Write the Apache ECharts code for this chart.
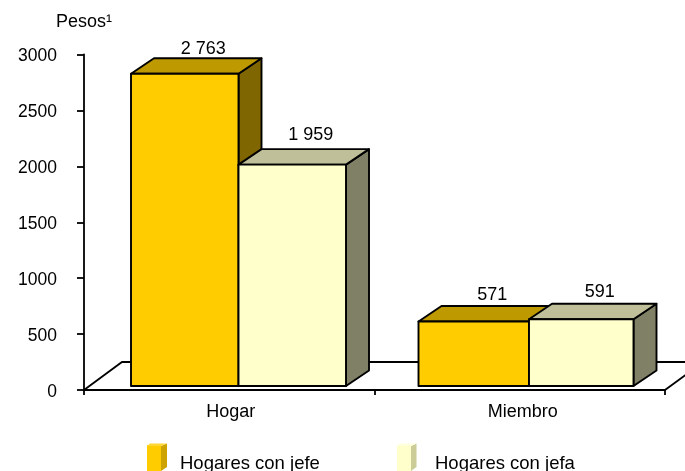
<!DOCTYPE html>
<html><head><meta charset="utf-8">
<style>html,body{margin:0;padding:0;background:#fff}#c{width:685px;height:471px}</style>
<script src="https://cdn.jsdelivr.net/npm/echarts@6/dist/echarts.min.js"></script>
</head><body><div id="c"></div>
<script>
const categories = ['Hogar', 'Miembro'];
const seriesNames = ['Hogares con jefe', 'Hogares con jefa'];
const jefeValues = [2763, 571];
const jefaValues = [1959, 591];
const valueLabels = [['2 763', '571'], ['1 959', '591']];
const yTicks = {min: 0, max: 3000, interval: 500};
const FONT = '"Liberation Sans", Arial, sans-serif';
const palette = [
  {front: '#FFCC00', top: '#BF9900', side: '#806600'},
  {front: '#FFFFCC', top: '#BFBF99', side: '#808066'}
];
const DX = 23, DY = 15.5, BAR_W = 107.5;
const sharedEdgeShift = [0, 3];
const labelLift = [[9.5, 11], [14, 11.5]];

function bar3d(si) {
  return function (params, api) {
    const cat = api.value(0), val = api.value(1);
    const p = api.coord([cat, val]), base = api.coord([cat, 0]);
    const edge = p[0] + sharedEdgeShift[params.dataIndex];
    const x0 = si === 0 ? p[0] - BAR_W : edge;
    const x1 = si === 0 ? edge : p[0] + BAR_W;
    const yT = p[1], yB = base[1];
    const c = palette[si];
    const st = (fill) => ({fill, stroke: '#000', lineWidth: 1.9, lineJoin: 'round'});
    const text = valueLabels[si][params.dataIndex];
    const lx = (x0 + x1) / 2 + 18.5;
    return {type: 'group', children: [
      {type: 'polygon', shape: {points: [[x1, yT], [x1 + DX, yT - DY], [x1 + DX, yB - DY], [x1, yB]]}, style: st(c.side)},
      {type: 'polygon', shape: {points: [[x0, yT], [x0 + DX, yT - DY], [x1 + DX, yT - DY], [x1, yT]]}, style: st(c.top)},
      {type: 'rect', shape: {x: x0, y: yT, width: x1 - x0, height: yB - yT}, style: st(c.front)},
      {type: 'text', style: {text, x: lx, y: yT - DY - labelLift[si][params.dataIndex], align: 'center', verticalAlign: 'middle', font: '18px ' + FONT, fill: '#000'}}
    ]};
  };
}
function makeSeries(si, values) {
  return {
    name: seriesNames[si], type: 'custom', xAxisIndex: 1, yAxisIndex: 1, clip: false,
    data: values.map((v, i) => [i, v]), renderItem: bar3d(si),
    itemStyle: {color: palette[si].front}, encode: {x: 0, y: 1}
  };
}
const chart = echarts.init(document.getElementById('c'), null, {renderer: 'canvas'});
const axisLine = {show: true, lineStyle: {color: '#000', width: 1.8}};
const legendBase = {orient: 'horizontal', itemWidth: 14, itemHeight: 38, icon: 'rect', symbolKeepAspect: false,
  selectedMode: false};
const legendText = (pad) => ({fontFamily: FONT, fontSize: 18.5, color: '#000', padding: [0, 0, 0, pad]});
chart.setOption({
  animation: false,
  backgroundColor: '#fff',
  textStyle: {fontFamily: FONT},
  legend: [
    Object.assign({}, legendBase, {data: [seriesNames[0]], left: 147, top: 445, padding: 0, textStyle: legendText(14)}),
    Object.assign({}, legendBase, {data: [seriesNames[1]], left: 397, top: 445, padding: 0, textStyle: legendText(19)})
  ],
  grid: [
    {left: 84, right: 20, top: 54.5, height: 335.5},
    {left: 94.75, width: 575, top: 47, height: 339}
  ],
  xAxis: [
    {type: 'category', gridIndex: 0, data: categories, axisLine, axisTick: {show: true, length: 5, lineStyle: {color: '#000', width: 1.8}},
     axisLabel: {color: '#000', fontSize: 18, fontFamily: FONT, margin: 13,
       formatter: (v, i) => `{c${i}|${v}}`,
       rich: {c0: {fontSize: 18, fontFamily: FONT, color: '#000', padding: [0, 0, 0, 3]},
              c1: {fontSize: 18, fontFamily: FONT, color: '#000', padding: [0, 0, 0, 6]}}}},
    {type: 'category', gridIndex: 1, data: categories, show: false}
  ],
  yAxis: [
    {type: 'value', gridIndex: 0, min: yTicks.min, max: yTicks.max, interval: yTicks.interval, axisLine,
     axisTick: {show: true, length: 7, lineStyle: {color: '#000', width: 1.8}}, splitLine: {show: false},
     axisLabel: {color: '#000', fontSize: 17.5, fontFamily: FONT, margin: 27, formatter: (v) => `{t|${v}}`,
       rich: {t: {fontSize: 17.5, fontFamily: FONT, color: '#000', padding: [4, 0, 0, 0]}}},
     name: 'Pesos¹', nameLocation: 'end', nameGap: 23, nameTextStyle: {color: '#000', fontSize: 18, fontFamily: FONT, align: 'center'}},
    {type: 'value', gridIndex: 1, min: yTicks.min, max: yTicks.max, interval: yTicks.interval, show: false}
  ],
  series: [
    {type: 'custom', silent: true, xAxisIndex: 0, yAxisIndex: 0, clip: false, data: [[0, 0]], legendHoverLink: false,
     renderItem: function (params, api) {
       const o = api.coord([0, 0]), s = params.coordSys;
       const x0 = s.x, y0 = o[1], x1 = s.x + s.width;
       const ln = {stroke: '#000', lineWidth: 1.8, fill: 'none'};
       return {type: 'group', children: [
         {type: 'polyline', shape: {points: [[x0, y0], [x0 + 38, y0 - 28], [x1 + 38, y0 - 28], [x1, y0]]}, style: ln}
       ]};
     }, z: 1},
    makeSeries(0, jefeValues),
    makeSeries(1, jefaValues)
  ],
  graphic: [
    {type: 'polygon', silent: true, z: 100, shape: {points: [[161, 446], [167, 443.5], [167, 467], [161, 471]]}, style: {fill: '#CCA300'}},
    {type: 'polygon', silent: true, z: 100, shape: {points: [[147, 446], [150, 443.5], [167, 443.5], [161, 446]]}, style: {fill: '#FFD633'}},
    {type: 'polygon', silent: true, z: 100, shape: {points: [[411, 446], [416.5, 443.5], [416.5, 467], [411, 471]]}, style: {fill: '#CCCC99'}},
    {type: 'polygon', silent: true, z: 100, shape: {points: [[397, 446], [400, 443.5], [416.5, 443.5], [411, 446]]}, style: {fill: '#FFFFDD'}}
  ]
});
</script></body></html>
